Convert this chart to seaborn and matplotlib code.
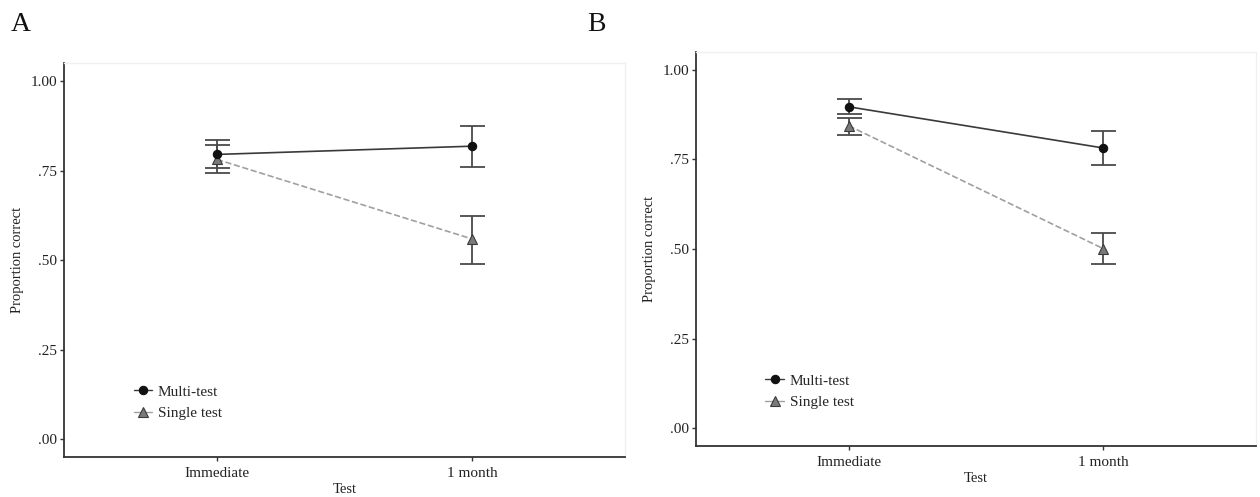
import numpy as np
import pandas as pd
import seaborn as sns
import matplotlib
matplotlib.use("Agg")
import matplotlib.pyplot as plt
from matplotlib.lines import Line2D

# ---------------- data ----------------
tests = ["Immediate", "1 month"]
conditions = ["Multi-test", "Single test"]

a_multi_mean = [0.795, 0.818]
a_multi_lo = [0.758, 0.761]
a_multi_hi = [0.834, 0.875]
a_single_mean = [0.781, 0.559]
a_single_lo = [0.743, 0.488]
a_single_hi = [0.821, 0.623]

b_multi_mean = [0.897, 0.782]
b_multi_lo = [0.876, 0.735]
b_multi_hi = [0.919, 0.830]
b_single_mean = [0.844, 0.501]
b_single_lo = [0.819, 0.457]
b_single_hi = [0.866, 0.545]

yticks = [0.0, 0.25, 0.50, 0.75, 1.00]
ytick_labels = [".00", ".25", ".50", ".75", "1.00"]

sns.set_theme(style="white")
plt.rcParams["font.family"] = ["Liberation Serif", "DejaVu Serif"]

fig = plt.figure(figsize=(12.6, 4.97), dpi=100)
axA = fig.add_axes([0.0508, 0.0805, 0.4452, 0.7925])
axB = fig.add_axes([0.5524, 0.1026, 0.4444, 0.7928])

styles = {
    "Multi-test": dict(line="#3a3a3a", face="#111111", edge="#111111", marker="o", ls="-", ms=6.0),
    "Single test": dict(line="#a0a0a0", face="#7a7a7a", edge="#3a3a3a", marker="^", ls="--", ms=7.0),
}


def draw(ax, series):
    for cond, mean, lo, hi in series:
        st = styles[cond]
        df = pd.DataFrame({"Test": tests, "Proportion correct": mean})
        x = np.arange(len(tests))
        err = [np.array(mean) - np.array(lo), np.array(hi) - np.array(mean)]
        ax.errorbar(x, mean, yerr=err, fmt="none", ecolor="#4a4a4a",
                    elinewidth=1.3, capsize=9, capthick=1.3, zorder=2)
        sns.pointplot(data=df, x="Test", y="Proportion correct", order=tests,
                      color=st["line"], markers=st["marker"], linestyles=st["ls"],
                      errorbar=None, ax=ax, markersize=st["ms"], linewidth=1.2,
                      markerfacecolor=st["face"], markeredgecolor=st["edge"],
                      markeredgewidth=0.8, zorder=3)
    ax.set_xlim(-0.6, 1.6)
    ax.set_ylim(-0.05, 1.05)
    ax.set_yticks(yticks)
    ax.set_yticklabels(ytick_labels)
    ax.set_xlabel("Test", fontsize=10.5, color="#222222")
    ax.set_ylabel("Proportion correct", fontsize=10.5, color="#222222")
    ax.yaxis.set_label_coords(-0.072, 0.5)
    ax.xaxis.set_label_coords(0.5, -0.066)
    for s in ["left", "bottom"]:
        ax.spines[s].set_color("#333333")
        ax.spines[s].set_linewidth(1.3)
    for s in ["top", "right"]:
        ax.spines[s].set_color("#f0f0f0")
        ax.spines[s].set_linewidth(1.0)
    ax.tick_params(axis="both", which="both", length=3, width=1.0, color="#333333",
                   labelsize=11, labelcolor="#222222", left=True, bottom=True)
    ax.tick_params(axis="x", pad=4)
    ax.tick_params(axis="y", pad=2)
    ax.grid(False)
    handles = [
        Line2D([], [], color=styles[c]["line"], ls="-", marker=styles[c]["marker"],
               markerfacecolor=styles[c]["face"], markeredgecolor=styles[c]["edge"],
               markersize=styles[c]["ms"], markeredgewidth=0.8, lw=1.0)
        for c in conditions
    ]
    ax.legend(handles, conditions, loc="lower left", bbox_to_anchor=(0.113, 0.078),
              frameon=False, fontsize=11, handlelength=1.2, handletextpad=0.4,
              labelspacing=0.5, borderaxespad=0)


draw(axA, [("Single test", a_single_mean, a_single_lo, a_single_hi),
           ("Multi-test", a_multi_mean, a_multi_lo, a_multi_hi)])
draw(axB, [("Single test", b_single_mean, b_single_lo, b_single_hi),
           ("Multi-test", b_multi_mean, b_multi_lo, b_multi_hi)])

fig.text(11 / 1260, 1 - 12 / 497, "A", fontsize=20, color="#111111", va="top")
fig.text(587 / 1260, 1 - 12 / 497, "B", fontsize=20, color="#111111", va="top")

fig.savefig("out.png", dpi=100, facecolor="white")
